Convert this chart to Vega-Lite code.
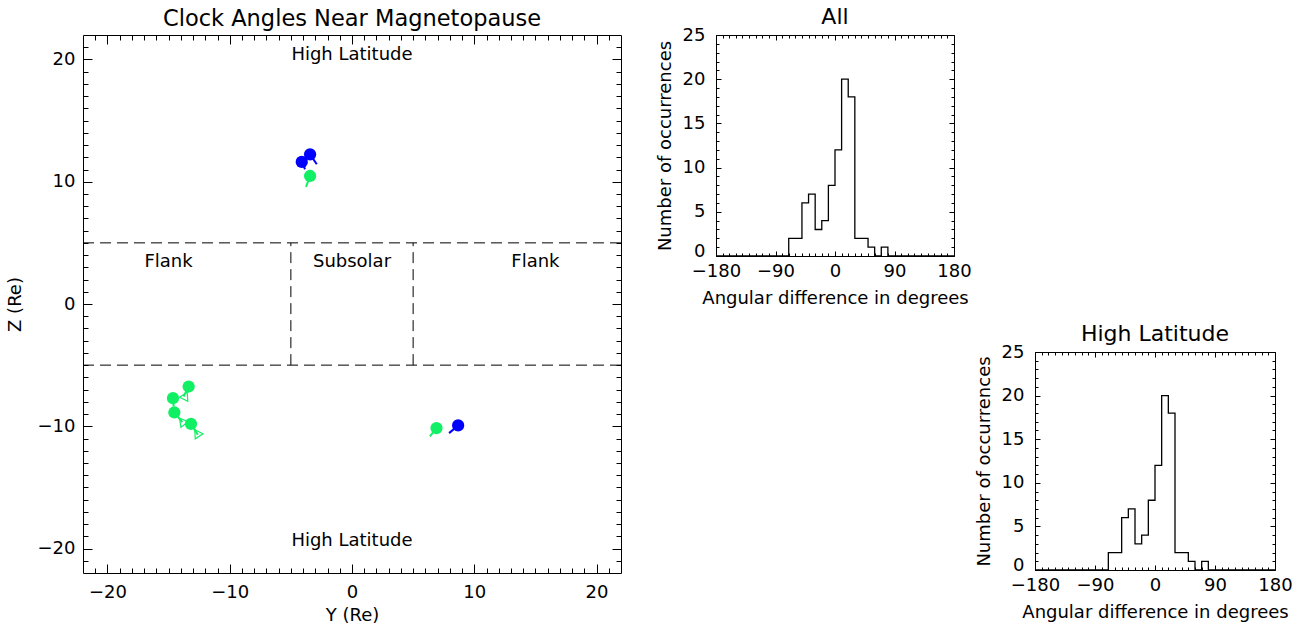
{
  "$schema": "https://vega.github.io/schema/vega-lite/v6.json",
  "padding": {"left": 6, "top": 6, "right": 5, "bottom": 5},
  "datasets": {
    "points": [
      {"series": "blue", "y": -4.11, "z": 11.62, "tail_y": -3.84, "tail_z": 11.02},
      {"series": "green", "y": -3.43, "z": 10.47, "tail_y": -3.76, "tail_z": 9.58},
      {"series": "blue", "y": -3.43, "z": 12.24, "tail_y": -2.88, "tail_z": 11.43},
      {"series": "green", "y": -13.36, "z": -6.75, "tail_y": -13.77, "tail_z": -7.57},
      {"series": "green", "y": -14.64, "z": -7.70, "tail_y": -14.59, "tail_z": -8.38},
      {"series": "green", "y": -14.53, "z": -8.87, "tail_y": -13.88, "tail_z": -9.67},
      {"series": "green", "y": -13.17, "z": -9.80, "tail_y": -12.61, "tail_z": -10.69},
      {"series": "green", "y": 6.91, "z": -10.15, "tail_y": 6.37, "tail_z": -10.83},
      {"series": "blue", "y": 8.68, "z": -9.93, "tail_y": 7.94, "tail_z": -10.56}
    ],
    "cones": [
      {"series": "green", "y": -13.62, "z": -7.5, "angle": 27},
      {"series": "green", "y": -13.9, "z": -9.6, "angle": 321},
      {"series": "green", "y": -12.68, "z": -10.55, "angle": 327}
    ],
    "hbounds": [{"z": 5}, {"z": -5}],
    "vbounds": [{"y": -5, "z_lo": -5, "z_hi": 5}, {"y": 5, "z_lo": -5, "z_hi": 5}],
    "regions": [
      {"label": "High Latitude", "y": 0, "z": 20.4},
      {"label": "High Latitude", "y": 0, "z": -19.4},
      {"label": "Flank", "y": -15, "z": 3.4},
      {"label": "Subsolar", "y": 0, "z": 3.4},
      {"label": "Flank", "y": 15, "z": 3.4}
    ],
    "hist": [
      {"bin_start": -180, "count": 0}, {"bin_start": -170, "count": 0}, {"bin_start": -160, "count": 0},
      {"bin_start": -150, "count": 0}, {"bin_start": -140, "count": 0}, {"bin_start": -130, "count": 0},
      {"bin_start": -120, "count": 0}, {"bin_start": -110, "count": 0}, {"bin_start": -100, "count": 0},
      {"bin_start": -90, "count": 0}, {"bin_start": -80, "count": 0}, {"bin_start": -70, "count": 2},
      {"bin_start": -60, "count": 2}, {"bin_start": -50, "count": 6}, {"bin_start": -40, "count": 7},
      {"bin_start": -30, "count": 3}, {"bin_start": -20, "count": 4}, {"bin_start": -10, "count": 8},
      {"bin_start": 0, "count": 12}, {"bin_start": 10, "count": 20}, {"bin_start": 20, "count": 18},
      {"bin_start": 30, "count": 2}, {"bin_start": 40, "count": 2}, {"bin_start": 50, "count": 1},
      {"bin_start": 60, "count": 0}, {"bin_start": 70, "count": 1}, {"bin_start": 80, "count": 0},
      {"bin_start": 90, "count": 0}, {"bin_start": 100, "count": 0}, {"bin_start": 110, "count": 0},
      {"bin_start": 120, "count": 0}, {"bin_start": 130, "count": 0}, {"bin_start": 140, "count": 0},
      {"bin_start": 150, "count": 0}, {"bin_start": 160, "count": 0}, {"bin_start": 170, "count": 0},
      {"bin_start": 180, "count": 0}
    ]
  },
  "bounds": "flush",
  "spacing": 95,
  "hconcat": [
    {
      "width": 538,
      "height": 538,
      "title": {"text": "Clock Angles Near Magnetopause", "offset": 4, "fontSize": 22.5},
      "layer": [
        {
          "data": {"name": "hbounds"},
          "mark": {"type": "rule", "color": "black", "strokeDash": [11, 6], "strokeWidth": 1},
          "encoding": {
            "y": {"field": "z", "type": "quantitative", "scale": {"domain": [-22, 22], "nice": false, "zero": false}, "axis": null}
          }
        },
        {
          "data": {"name": "vbounds"},
          "mark": {"type": "rule", "color": "black", "strokeDash": [11, 6], "strokeWidth": 1},
          "encoding": {
            "x": {"field": "y", "type": "quantitative", "scale": {"domain": [-22, 22], "nice": false, "zero": false}, "axis": null},
            "y": {"field": "z_lo", "type": "quantitative", "axis": null},
            "y2": {"field": "z_hi"}
          }
        },
        {
          "data": {"name": "points"},
          "mark": {"type": "rule", "strokeWidth": 2},
          "encoding": {
            "x": {"field": "y", "type": "quantitative", "axis": {
              "orient": "top", "labels": false, "title": null,
              "values": [-21,-20,-19,-18,-17,-16,-15,-14,-13,-12,-11,-10,-9,-8,-7,-6,-5,-4,-3,-2,-1,0,1,2,3,4,5,6,7,8,9,10,11,12,13,14,15,16,17,18,19,20,21],
              "tickSize": {"condition": {"test": "datum.value % 10 === 0", "value": -9}, "value": -5}
            }},
            "x2": {"field": "tail_y"},
            "y": {"field": "z", "type": "quantitative", "axis": {
              "orient": "right", "labels": false, "title": null,
              "values": [-21,-20,-19,-18,-17,-16,-15,-14,-13,-12,-11,-10,-9,-8,-7,-6,-5,-4,-3,-2,-1,0,1,2,3,4,5,6,7,8,9,10,11,12,13,14,15,16,17,18,19,20,21],
              "tickSize": {"condition": {"test": "datum.value % 10 === 0", "value": -9}, "value": -5}
            }},
            "y2": {"field": "tail_z"},
            "color": {"field": "series", "type": "nominal", "scale": {"domain": ["blue", "green"], "range": ["#0000ff", "#11f064"]}, "legend": null}
          }
        },
        {
          "data": {"name": "cones"},
          "mark": {"type": "point", "shape": "triangle-up", "filled": false, "size": 85, "strokeWidth": 1.2, "opacity": 1},
          "encoding": {
            "x": {"field": "y", "type": "quantitative", "axis": null},
            "y": {"field": "z", "type": "quantitative", "axis": null},
            "angle": {"field": "angle", "type": "quantitative", "scale": null},
            "color": {"field": "series", "type": "nominal", "legend": null}
          }
        },
        {
          "data": {"name": "points"},
          "mark": {"type": "circle", "size": 150, "opacity": 1},
          "encoding": {
            "x": {"field": "y", "type": "quantitative", "axis": {
              "orient": "bottom", "title": "Y (Re)",
              "values": [-21,-20,-19,-18,-17,-16,-15,-14,-13,-12,-11,-10,-9,-8,-7,-6,-5,-4,-3,-2,-1,0,1,2,3,4,5,6,7,8,9,10,11,12,13,14,15,16,17,18,19,20,21],
              "labelExpr": "datum.value % 10 === 0 ? datum.label : ''",
              "tickSize": {"condition": {"test": "datum.value % 10 === 0", "value": -9}, "value": -5},
              "labelPadding": 19, "titlePadding": 1
            }},
            "y": {"field": "z", "type": "quantitative", "axis": {
              "orient": "left", "title": "Z (Re)",
              "values": [-21,-20,-19,-18,-17,-16,-15,-14,-13,-12,-11,-10,-9,-8,-7,-6,-5,-4,-3,-2,-1,0,1,2,3,4,5,6,7,8,9,10,11,12,13,14,15,16,17,18,19,20,21],
              "labelExpr": "datum.value % 10 === 0 ? datum.label : ''",
              "tickSize": {"condition": {"test": "datum.value % 10 === 0", "value": -9}, "value": -5},
              "labelPadding": 17, "titlePadding": 13
            }},
            "color": {"field": "series", "type": "nominal", "legend": null}
          }
        },
        {
          "data": {"name": "regions"},
          "mark": {"type": "text", "font": "DejaVu Sans", "fontSize": 18, "color": "black", "baseline": "middle", "align": "center"},
          "encoding": {
            "x": {"field": "y", "type": "quantitative", "axis": null},
            "y": {"field": "z", "type": "quantitative", "axis": null},
            "text": {"field": "label", "type": "nominal"}
          }
        }
      ],
      "resolve": {"axis": {"x": "independent", "y": "independent"}}
    },
    {
      "bounds": "flush",
      "spacing": 81,
      "hconcat": [
        {
          "width": 238,
          "height": 221,
          "title": {"text": "All", "offset": -3},
          "data": {"name": "hist"},
          "layer": [
            {
              "mark": {"type": "line", "interpolate": "step-after", "color": "black", "strokeWidth": 1.3},
              "encoding": {
                "x": {"field": "bin_start", "type": "quantitative", "scale": {"domain": [-180, 180], "nice": false}, "axis": {
                  "orient": "bottom", "title": "Angular difference in degrees",
                  "values": [-180,-170,-160,-150,-140,-130,-120,-110,-100,-90,-80,-70,-60,-50,-40,-30,-20,-10,0,10,20,30,40,50,60,70,80,90,100,110,120,130,140,150,160,170,180],
                  "labelExpr": "datum.value % 90 === 0 ? datum.label : ''",
                  "tickSize": {"condition": {"test": "datum.value % 90 === 0", "value": -5}, "value": -3},
                  "labelPadding": 11, "titlePadding": 7
                }},
                "y": {"field": "count", "type": "quantitative", "scale": {"domain": [0, 25], "nice": false}, "axis": {
                  "orient": "left", "title": "Number of occurrences",
                  "values": [0,1,2,3,4,5,6,7,8,9,10,11,12,13,14,15,16,17,18,19,20,21,22,23,24,25],
                  "labelExpr": "datum.value % 5 === 0 ? datum.label : ''",
                  "labelOffset": {"condition": {"test": "datum.value === 0", "value": -5}, "value": 0},
                  "tickSize": {"condition": {"test": "datum.value % 5 === 0", "value": -5}, "value": -3},
                  "labelPadding": 16, "titlePadding": 8
                }}
              }
            },
            {
              "mark": {"type": "line", "interpolate": "step-after", "opacity": 0},
              "encoding": {
                "x": {"field": "bin_start", "type": "quantitative", "axis": {
                  "orient": "top", "labels": false, "title": null,
                  "values": [-180,-170,-160,-150,-140,-130,-120,-110,-100,-90,-80,-70,-60,-50,-40,-30,-20,-10,0,10,20,30,40,50,60,70,80,90,100,110,120,130,140,150,160,170,180],
                  "tickSize": {"condition": {"test": "datum.value % 90 === 0", "value": -5}, "value": -3}
                }},
                "y": {"field": "count", "type": "quantitative", "axis": {
                  "orient": "right", "labels": false, "title": null,
                  "values": [0,1,2,3,4,5,6,7,8,9,10,11,12,13,14,15,16,17,18,19,20,21,22,23,24,25],
                  "tickSize": {"condition": {"test": "datum.value % 5 === 0", "value": -5}, "value": -3}
                }}
              }
            }
          ],
          "resolve": {"axis": {"x": "independent", "y": "independent"}}
        },
        {
          "bounds": "flush",
          "spacing": 0,
          "vconcat": [
            {
              "width": 240,
              "height": 317,
              "data": {"values": [{}]},
              "mark": {"type": "text", "text": ""}
            },
            {
              "width": 240,
              "height": 218,
              "title": {"text": "High Latitude", "offset": -3},
              "data": {"name": "hist"},
              "layer": [
                {
                  "mark": {"type": "line", "interpolate": "step-after", "color": "black", "strokeWidth": 1.3},
                  "encoding": {
                    "x": {"field": "bin_start", "type": "quantitative", "scale": {"domain": [-180, 180], "nice": false}, "axis": {
                      "orient": "bottom", "title": "Angular difference in degrees",
                      "values": [-180,-170,-160,-150,-140,-130,-120,-110,-100,-90,-80,-70,-60,-50,-40,-30,-20,-10,0,10,20,30,40,50,60,70,80,90,100,110,120,130,140,150,160,170,180],
                      "labelExpr": "datum.value % 90 === 0 ? datum.label : ''",
                      "tickSize": {"condition": {"test": "datum.value % 90 === 0", "value": -5}, "value": -3},
                      "labelPadding": 11, "titlePadding": 7
                    }},
                    "y": {"field": "count", "type": "quantitative", "scale": {"domain": [0, 25], "nice": false}, "axis": {
                      "orient": "left", "title": "Number of occurrences",
                      "values": [0,1,2,3,4,5,6,7,8,9,10,11,12,13,14,15,16,17,18,19,20,21,22,23,24,25],
                      "labelExpr": "datum.value % 5 === 0 ? datum.label : ''",
                      "labelOffset": {"condition": {"test": "datum.value === 0", "value": -5}, "value": 0},
                      "tickSize": {"condition": {"test": "datum.value % 5 === 0", "value": -5}, "value": -3},
                      "labelPadding": 16, "titlePadding": 8
                    }}
                  }
                },
                {
                  "mark": {"type": "line", "interpolate": "step-after", "opacity": 0},
                  "encoding": {
                    "x": {"field": "bin_start", "type": "quantitative", "axis": {
                      "orient": "top", "labels": false, "title": null,
                      "values": [-180,-170,-160,-150,-140,-130,-120,-110,-100,-90,-80,-70,-60,-50,-40,-30,-20,-10,0,10,20,30,40,50,60,70,80,90,100,110,120,130,140,150,160,170,180],
                      "tickSize": {"condition": {"test": "datum.value % 90 === 0", "value": -5}, "value": -3}
                    }},
                    "y": {"field": "count", "type": "quantitative", "axis": {
                      "orient": "right", "labels": false, "title": null,
                      "values": [0,1,2,3,4,5,6,7,8,9,10,11,12,13,14,15,16,17,18,19,20,21,22,23,24,25],
                      "tickSize": {"condition": {"test": "datum.value % 5 === 0", "value": -5}, "value": -3}
                    }}
                  }
                }
              ],
              "resolve": {"axis": {"x": "independent", "y": "independent"}}
            }
          ]
        }
      ]
    }
  ],
  "config": {
    "font": "DejaVu Sans",
    "view": {"stroke": null},
    "axis": {
      "labelFont": "DejaVu Sans", "labelFontSize": 18, "labelColor": "black",
      "titleFont": "DejaVu Sans", "titleFontSize": 18, "titleFontWeight": "normal", "titleColor": "black",
      "domainColor": "black", "domainWidth": 1, "tickColor": "black", "tickWidth": 1,
      "grid": false, "labelFlush": false, "labelOverlap": false, "labelBound": false
    },
    "title": {"font": "DejaVu Sans", "fontSize": 22, "fontWeight": "normal", "color": "black"}
  }
}
